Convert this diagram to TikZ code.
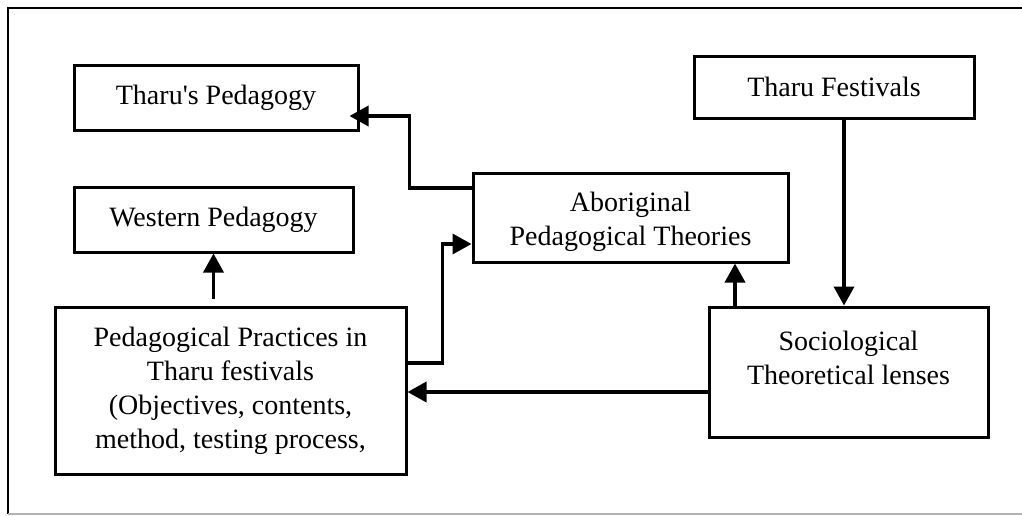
\documentclass[tikz,border=0pt]{standalone}
\usepackage{fontspec}
\setmainfont{Liberation Serif}
\usetikzlibrary{arrows.meta,calc}
\begin{document}
\begin{tikzpicture}[x=1pt,y=-1pt,
  box/.style={draw, line width=3pt, align=center, inner sep=0pt,
    font=\fontsize{28}{33}\selectfont},
  txt/.style={align=center, inner sep=0pt, font=\fontsize{28}{34}\selectfont},
  arr/.style={line width=3.6pt, -{Triangle[length=19pt,width=20pt]}},
  frame/.style={line width=2pt}]
\useasboundingbox (0,0) rectangle (1022,515);
% outer frame
\draw[frame] (1022,8) -- (8,8) -- (8,514);
\draw[line width=1.5pt, black!30] (8,514) -- (1022,514);
% boxes
\node[box, minimum width=284pt, minimum height=65pt] (tp) at (216,97.5) {Tharu\textquotesingle s Pedagogy};
\node[box, minimum width=279pt, minimum height=65pt] (wp) at (213.5,219.5) {Western Pedagogy};
\node[box, minimum width=315pt, minimum height=89pt] (ab) at (630.5,217.5) {};
\node[txt] (abt) at (630.5,222) {Aboriginal\\Pedagogical Theories};
\node[box, minimum width=280pt, minimum height=62pt] (tf) at (834,87) {Tharu Festivals};
\node[box, minimum width=279pt, minimum height=130pt] (so) at (848.5,372) {};
\node[txt] (sot) at (848.5,358) {Sociological\\Theoretical lenses};
\node[box, minimum width=351pt, minimum height=167pt] (pp) at (230.5,390.5) {};
\node[txt] (ppt) at (230.5,391) {Pedagogical Practices in\\Tharu festivals\\(Objectives, contents,\\method, testing process,};
% connectors
\draw[arr] ([yshift=29.5pt]ab.west) -- ++(-62,0) |- ([yshift=-18.5pt,xshift=-10pt]tp.east);
\draw[arr] ([yshift=27.5pt]pp.east) -- ++(35,0) |- ([yshift=-26.5pt]ab.west);
\draw[arr] ($(pp.north -| wp.south)+(0,-7)$) -- (wp.south);
\draw[arr] ([yshift=-20pt]so.west) -- ([yshift=-20pt]so.west -| pp.east);
\draw[arr] ([xshift=-113.5pt]so.north) -- ([xshift=-113.5pt]so.north |- ab.south);
\draw[arr] ([xshift=10pt]tf.south) -- ([xshift=10pt]tf.south |- so.north);
\end{tikzpicture}
\end{document}
